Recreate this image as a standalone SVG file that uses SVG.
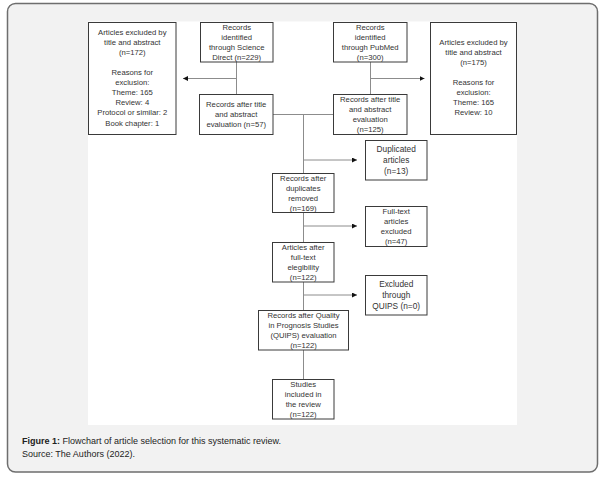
<svg xmlns="http://www.w3.org/2000/svg" width="602" height="480" viewBox="0 0 602 480">
<defs>
<style>
.panel{fill:#f2f2f2;stroke:#6e6e6e;stroke-width:1.5}
.box{fill:#fff;stroke:#3a3a3a;stroke-width:1}
.t{font-family:"Liberation Sans",Arial,sans-serif;font-size:7.7px;fill:#333;text-anchor:middle}
.tl{font-size:8.3px}
.conn{fill:none;stroke:#8c8c8c;stroke-width:1}
.cap{font-family:"Liberation Sans",Arial,sans-serif;font-size:9px;fill:#222}
</style>
<marker id="ah" viewBox="0 0 6 6" refX="6" refY="3" markerWidth="5" markerHeight="5" markerUnits="userSpaceOnUse" orient="auto">
<path d="M0,0 L6,3 L0,6 Z" fill="#111"/>
</marker>
</defs>
<rect class="panel" x="7.5" y="3.5" width="590" height="468.5" rx="8"/>
<rect x="88" y="21.5" width="429" height="403.5" fill="#fff"/>

<g id="connectors">
<line class="conn" x1="236.5" y1="62" x2="236.5" y2="94"/>
<line class="conn" x1="236.5" y1="78.5" x2="183" y2="78.5" marker-end="url(#ah)"/>
<line class="conn" x1="370.5" y1="62" x2="370.5" y2="94"/>
<line class="conn" x1="370.5" y1="78.5" x2="424.5" y2="78.5" marker-end="url(#ah)"/>
<line class="conn" x1="273" y1="114.5" x2="333.5" y2="114.5"/>
<line class="conn" x1="303.5" y1="114.5" x2="303.5" y2="379"/>
<line class="conn" x1="303.5" y1="160" x2="357" y2="160" marker-end="url(#ah)"/>
<line class="conn" x1="303.5" y1="226" x2="357" y2="226" marker-end="url(#ah)"/>
<line class="conn" x1="303.5" y1="295" x2="357" y2="295" marker-end="url(#ah)"/>
</g>

<g id="excl-left">
<rect class="box" x="88.5" y="22.5" width="87.5" height="112"/>
<text class="t"><tspan x="132.3" y="35.4">Articles excluded by</tspan><tspan x="132.3" y="45.4">title and abstract</tspan><tspan x="132.3" y="55.4">(n=172)</tspan><tspan x="132.3" y="75.4">Reasons for</tspan><tspan x="132.3" y="85.4">exclusion:</tspan><tspan x="132.3" y="95.4">Theme: 165</tspan><tspan x="132.3" y="105.4">Review: 4</tspan><tspan x="132.3" y="115.4">Protocol or similar: 2</tspan><tspan x="132.3" y="125.6">Book chapter: 1</tspan></text>
</g>

<g id="sd">
<rect class="box" x="200.5" y="22.5" width="72.5" height="39.5"/>
<text class="t"><tspan x="236.7" y="30">Records</tspan><tspan x="236.7" y="40">identified</tspan><tspan x="236.7" y="50">through Science</tspan><tspan x="236.7" y="60">Direct (n=229)</tspan></text>
</g>

<g id="pubmed">
<rect class="box" x="333.5" y="22.5" width="73.5" height="39.5"/>
<text class="t"><tspan x="370.2" y="30">Records</tspan><tspan x="370.2" y="40">identified</tspan><tspan x="370.2" y="50">through PubMed</tspan><tspan x="370.2" y="60">(n=300)</tspan></text>
</g>

<g id="excl-right">
<rect class="box" x="430.5" y="22.5" width="86" height="112"/>
<text class="t"><tspan x="473.5" y="45.4">Articles excluded by</tspan><tspan x="473.5" y="55.4">title and abstract</tspan><tspan x="473.5" y="65.4">(n=175)</tspan><tspan x="473.5" y="85.4">Reasons for</tspan><tspan x="473.5" y="95.4">exclusion:</tspan><tspan x="473.5" y="105.4">Theme: 165</tspan><tspan x="473.5" y="115.4">Review: 10</tspan></text>
</g>

<g id="sd-after">
<rect class="box" x="199.5" y="94.5" width="73.5" height="40"/>
<text class="t"><tspan x="236.2" y="106.7">Records after title</tspan><tspan x="236.2" y="116.7">and abstract</tspan><tspan x="236.2" y="126.7">evaluation (n=57)</tspan></text>
</g>

<g id="pubmed-after">
<rect class="box" x="333.5" y="94.5" width="73.5" height="40"/>
<text class="t"><tspan x="370.2" y="102">Records after title</tspan><tspan x="370.2" y="112">and abstract</tspan><tspan x="370.2" y="122">evaluation</tspan><tspan x="370.2" y="132">(n=125)</tspan></text>
</g>

<g id="duplicated">
<rect class="box" x="365.5" y="140.5" width="61.5" height="39.5"/>
<text class="t tl"><tspan x="396.2" y="151.9">Duplicated</tspan><tspan x="396.2" y="162.9">articles</tspan><tspan x="396.2" y="173.9">(n=13)</tspan></text>
</g>

<g id="after-dup">
<rect class="box" x="272.5" y="173.5" width="61.5" height="39"/>
<text class="t"><tspan x="303.2" y="180.7">Records after</tspan><tspan x="303.2" y="191">duplicates</tspan><tspan x="303.2" y="201">removed</tspan><tspan x="303.2" y="211">(n=169)</tspan></text>
</g>

<g id="fulltext-excl">
<rect class="box" x="365.5" y="206.5" width="61.5" height="40"/>
<text class="t"><tspan x="396.2" y="213.7">Full-text</tspan><tspan x="396.2" y="223.7">articles</tspan><tspan x="396.2" y="233.7">excluded</tspan><tspan x="396.2" y="243.7">(n=47)</tspan></text>
</g>

<g id="after-fulltext">
<rect class="box" x="272.5" y="242.5" width="61.5" height="39.5"/>
<text class="t"><tspan x="303.2" y="249.7">Articles after</tspan><tspan x="303.2" y="259.7">full-text</tspan><tspan x="303.2" y="269.7">elegibility</tspan><tspan x="303.2" y="279.7">(n=122)</tspan></text>
</g>

<g id="quips-excl">
<rect class="box" x="365.5" y="275.5" width="61.5" height="39.5"/>
<text class="t tl"><tspan x="396.2" y="287.2">Excluded</tspan><tspan x="396.2" y="298.2">through</tspan><tspan x="396.2" y="309">QUIPS (n=0)</tspan></text>
</g>

<g id="after-quips">
<rect class="box" x="258.5" y="310.5" width="90" height="39.5"/>
<text class="t"><tspan x="303.5" y="317.7">Records after Quality</tspan><tspan x="303.5" y="327.7">in Prognosis Studies</tspan><tspan x="303.5" y="337.7">(QUIPS) evaluation</tspan><tspan x="303.5" y="347.7">(n=122)</tspan></text>
</g>

<g id="included">
<rect class="box" x="272.5" y="379.5" width="61.5" height="39.5"/>
<text class="t"><tspan x="303.2" y="387">Studies</tspan><tspan x="303.2" y="397">included in</tspan><tspan x="303.2" y="407">the review</tspan><tspan x="303.2" y="417">(n=122)</tspan></text>
</g>

<text class="cap" x="22" y="443.5"><tspan font-weight="bold">Figure 1:</tspan> Flowchart of article selection for this systematic review.</text>
<text class="cap" x="22" y="456.5">Source: The Authors (2022).</text>
</svg>
